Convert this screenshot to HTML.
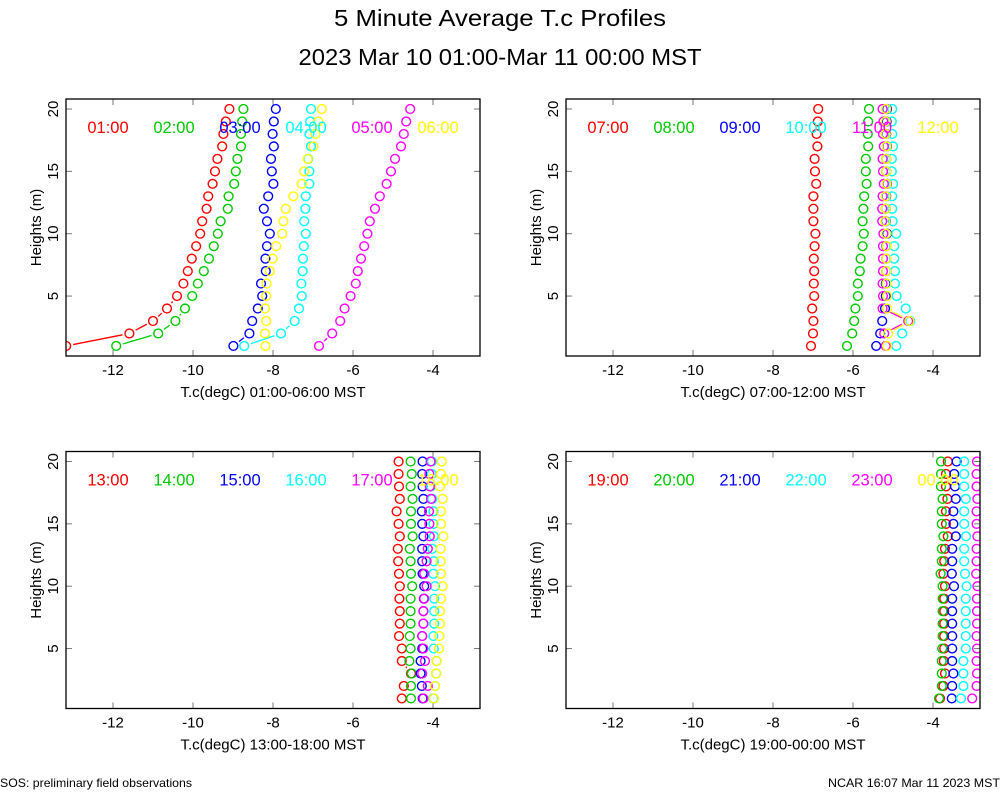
<!DOCTYPE html>
<html><head><meta charset="utf-8"><style>
html,body{margin:0;padding:0;background:#fff;}
svg{display:block;font-family:"Liberation Sans",sans-serif;}
</style></head><body>
<svg id="chart" width="1000" height="800" viewBox="0 0 1000 800" xmlns="http://www.w3.org/2000/svg">
<rect width="1000" height="800" fill="#fff"/>
<text x="500" y="26" font-size="23" text-anchor="middle" textLength="332" lengthAdjust="spacingAndGlyphs">5 Minute Average T.c Profiles</text>
<text x="500" y="65" font-size="23" text-anchor="middle" textLength="403" lengthAdjust="spacingAndGlyphs">2023 Mar 10 01:00-Mar 11 00:00 MST</text>
<text x="0" y="787" font-size="12" textLength="192" lengthAdjust="spacingAndGlyphs">SOS: preliminary field observations</text>
<text x="1000" y="787" font-size="12" text-anchor="end" textLength="172" lengthAdjust="spacingAndGlyphs">NCAR 16:07 Mar 11 2023 MST</text>
<g id="panels"></g>
</svg>
<script>
const heights = [20,19,18,17,16,15,14,13,12,11,10,9,8,7,6,5,4,3,2,1];
const xTicks = [-12,-10,-8,-6,-4];
const yTicks = [5,10,15,20];
const colors = ["#ff0000","#00c800","#0000ff","#00ffff","#ff00ff","#ffff00"];
const panelLabels = [["01:00","02:00","03:00","04:00","05:00","06:00"],["07:00","08:00","09:00","10:00","11:00","12:00"],["13:00","14:00","15:00","16:00","17:00","18:00"],["19:00","20:00","21:00","22:00","23:00","00:00"]];
const panelTitles = ["T.c(degC) 01:00-06:00 MST","T.c(degC) 07:00-12:00 MST","T.c(degC) 13:00-18:00 MST","T.c(degC) 19:00-00:00 MST"];
// panel 1
const p1s1 = [-9.09,-9.18,-9.24,-9.27,-9.39,-9.45,-9.51,-9.62,-9.66,-9.77,-9.82,-9.92,-10.03,-10.13,-10.24,-10.4,-10.65,-11.0,-11.59,-13.17];
const p1s2 = [-8.74,-8.77,-8.80,-8.80,-8.89,-8.93,-8.97,-9.11,-9.13,-9.31,-9.38,-9.48,-9.60,-9.73,-9.88,-10.02,-10.2,-10.44,-10.87,-11.92];
const p1s3 = [-7.93,-7.98,-8.01,-7.98,-8.05,-8.03,-7.99,-8.12,-8.23,-8.15,-8.08,-8.15,-8.19,-8.18,-8.30,-8.27,-8.38,-8.52,-8.59,-8.99];
const p1s4 = [-7.05,-7.07,-7.09,-7.05,-7.12,-7.09,-7.09,-7.18,-7.19,-7.22,-7.18,-7.23,-7.25,-7.26,-7.29,-7.28,-7.35,-7.46,-7.80,-8.72];
const p1s5 = [-4.57,-4.67,-4.73,-4.80,-4.95,-5.05,-5.16,-5.33,-5.45,-5.58,-5.64,-5.72,-5.80,-5.88,-5.93,-6.06,-6.21,-6.32,-6.52,-6.85];
const p1s6 = [-6.78,-6.87,-6.94,-6.99,-7.13,-7.22,-7.28,-7.49,-7.68,-7.74,-7.77,-7.92,-8.01,-8.08,-8.16,-8.17,-8.2,-8.17,-8.2,-8.19];
// panel 2
const p2s1 = [-6.87,-6.88,-6.91,-6.89,-6.96,-6.95,-6.92,-6.99,-6.99,-6.99,-6.94,-6.96,-6.98,-6.97,-6.98,-6.97,-7.02,-6.99,-7.0,-7.05];
const p2s2 = [-5.60,-5.62,-5.63,-5.62,-5.68,-5.68,-5.66,-5.72,-5.74,-5.76,-5.73,-5.76,-5.81,-5.83,-5.88,-5.88,-5.94,-5.97,-6.02,-6.15];
const p2s3 = [-5.15,-5.16,-5.17,-5.15,-5.17,-5.17,-5.15,-5.17,-5.18,-5.18,-5.15,-5.17,-5.17,-5.17,-5.18,-5.18,-5.20,-5.27,-5.32,-5.42];
const p2s4 = [-5.02,-5.03,-5.02,-5.0,-5.03,-5.03,-5.0,-5.02,-5.02,-5.01,-4.92,-4.97,-4.97,-4.95,-4.95,-4.91,-4.68,-4.57,-4.77,-4.92];
const p2s5 = [-5.26,-5.24,-5.25,-5.23,-5.26,-5.25,-5.23,-5.26,-5.27,-5.27,-5.24,-5.25,-5.25,-5.25,-5.26,-5.25,-5.26,-4.62,-5.22,-5.18];
const p2s6 = [-5.17,-5.18,-5.18,-5.16,-5.17,-5.17,-5.16,-5.18,-5.18,-5.19,-5.17,-5.16,-5.17,-5.17,-5.16,-5.15,-5.15,-4.59,-5.12,-5.15];
// panel 3
const p3s1 = [-4.86,-4.86,-4.85,-4.83,-4.91,-4.86,-4.83,-4.88,-4.87,-4.85,-4.83,-4.84,-4.83,-4.83,-4.85,-4.78,-4.78,-4.55,-4.73,-4.78];
const p3s2 = [-4.56,-4.53,-4.56,-4.51,-4.55,-4.55,-4.51,-4.58,-4.56,-4.55,-4.52,-4.56,-4.56,-4.56,-4.58,-4.56,-4.59,-4.53,-4.55,-4.55];
const p3s3 = [-4.26,-4.27,-4.26,-4.24,-4.28,-4.27,-4.24,-4.27,-4.27,-4.26,-4.22,-4.23,-4.24,-4.24,-4.27,-4.27,-4.31,-4.31,-4.28,-4.26];
const p3s4 = [-4.03,-4.03,-4.05,-4.02,-3.99,-3.99,-3.98,-4.02,-3.98,-3.99,-3.95,-3.97,-3.97,-3.97,-3.99,-3.98,-3.91,-3.92,-3.95,-3.99];
const p3s5 = [-4.06,-4.09,-4.08,-4.05,-4.10,-4.09,-4.08,-4.13,-4.16,-4.22,-4.16,-4.22,-4.24,-4.24,-4.27,-4.24,-4.20,-4.27,-4.13,-4.24];
const p3s6 = [-3.78,-3.80,-3.825,-3.76,-3.80,-3.80,-3.74,-3.81,-3.81,-3.80,-3.76,-3.80,-3.825,-3.825,-3.84,-3.85,-3.91,-3.92,-3.95,-3.98];
// panel 4
const p4s1 = [-3.63,-3.675,-3.675,-3.64,-3.675,-3.675,-3.63,-3.70,-3.72,-3.74,-3.70,-3.72,-3.72,-3.72,-3.72,-3.72,-3.73,-3.70,-3.74,-3.825];
const p4s2 = [-3.80,-3.80,-3.80,-3.76,-3.78,-3.78,-3.74,-3.78,-3.78,-3.81,-3.76,-3.76,-3.76,-3.76,-3.76,-3.77,-3.78,-3.78,-3.78,-3.85];
const p4s3 = [-3.41,-3.47,-3.45,-3.43,-3.49,-3.49,-3.43,-3.52,-3.52,-3.53,-3.475,-3.52,-3.52,-3.52,-3.52,-3.52,-3.52,-3.49,-3.52,-3.53];
const p4s4 = [-3.22,-3.22,-3.22,-3.18,-3.22,-3.22,-3.175,-3.22,-3.22,-3.20,-3.16,-3.18,-3.18,-3.18,-3.18,-3.18,-3.24,-3.24,-3.24,-3.30];
const p4s5 = [-2.90,-2.91,-2.91,-2.89,-2.91,-2.91,-2.89,-2.91,-2.91,-2.92,-2.89,-2.90,-2.90,-2.90,-2.91,-2.90,-2.91,-2.90,-2.91,-3.02];
const p4s6 = [-2.5,-2.5,-2.5,-2.5,-2.5,-2.5,-2.5,-2.5,-2.5,-2.5,-2.5,-2.5,-2.5,-2.5,-2.5,-2.5,-2.5,-2.5,-2.5,-2.5];
const panelSeries = [[p1s1,p1s2,p1s3,p1s4,p1s5,p1s6],[p2s1,p2s2,p2s3,p2s4,p2s5,p2s6],[p3s1,p3s2,p3s3,p3s4,p3s5,p3s6],[p4s1,p4s2,p4s3,p4s4,p4s5,p4s6]];

const NS = "http://www.w3.org/2000/svg";
const root = document.getElementById("panels");
const origins = [[0,0],[500,0],[0,352.5],[500,352.5]];
function mk(tag, attrs, parent){const e=document.createElementNS(NS,tag);for(const k in attrs)e.setAttribute(k,attrs[k]);parent.appendChild(e);return e;}

origins.forEach((o,pi)=>{
  const ox=o[0], oy=o[1];
  const xs = v => ox + 113 + (v + 12) * 40;
  const ys = h => oy + 109 + (20 - h) * 12.47;
  const L=ox+66, R=ox+480, T=oy+99, B=oy+356;
  const g = mk("g",{},root);
  
  
  const cp = mk("clipPath",{id:"clip"+pi},g);
  mk("rect",{x:L,y:T,width:R-L,height:B-T},cp);
  // ticks
  xTicks.forEach(t=>{
    const x=xs(t);
    mk("line",{x1:x,y1:B,x2:x,y2:B-6,stroke:"#777","stroke-width":1},g);
    mk("line",{x1:x,y1:T,x2:x,y2:T+6,stroke:"#777","stroke-width":1},g);
    const tl = mk("text",{x:x,y:B+19,"font-size":15,"text-anchor":"middle"},g);
    tl.textContent = String(t).replace("-","-");
    
    
  });
  yTicks.forEach(t=>{
    const y=ys(t);
    mk("line",{x1:L,y1:y,x2:L+6,y2:y,stroke:"#777","stroke-width":1},g);
    mk("line",{x1:R,y1:y,x2:R-6,y2:y,stroke:"#777","stroke-width":1},g);
    const tl = mk("text",{x:L-12,y:y,"font-size":15,"text-anchor":"middle",transform:`rotate(-90 ${L-12} ${y})`,"dominant-baseline":"middle"},g);
    tl.textContent = t;
    
    
  });
  const yl = mk("text",{x:ox+37,y:(T+B)/2,"font-size":15,"text-anchor":"middle",transform:`rotate(-90 ${ox+37} ${(T+B)/2})`,"dominant-baseline":"middle"},g);
  yl.textContent="Heights (m)";
  
  
  const xl = mk("text",{x:ox+273,y:B+41,"font-size":15,"text-anchor":"middle"},g);
  xl.textContent=panelTitles[pi];
  
  
  // series
  const sg = mk("g",{"clip-path":`url(#clip${pi})`},g);
  panelSeries[pi].forEach((vals,si)=>{
    const col=colors[si];
    const ser = mk("g",{},sg);
    
    
    for(let i=0;i<vals.length-1;i++){
      const x1=xs(vals[i]),y1=ys(heights[i]),x2=xs(vals[i+1]),y2=ys(heights[i+1]);
      const d=Math.hypot(x2-x1,y2-y1), gap=7;
      if(d>2*gap+1){
        const ux=(x2-x1)/d, uy=(y2-y1)/d;
        mk("line",{x1:x1+ux*gap,y1:y1+uy*gap,x2:x2-ux*gap,y2:y2-uy*gap,stroke:col,"stroke-width":1.3},ser);
      }
    }
    vals.forEach((v,i)=>{
      const c = mk("circle",{cx:xs(v),cy:ys(heights[i]),r:4.4,fill:"none",stroke:col,"stroke-width":1.4},ser);
      
      
    });
  });
  // legend
  panelLabels[pi].forEach((lab,si)=>{
    const t = mk("text",{x:ox+108+si*66,y:oy+133,"font-size":16.5,"text-anchor":"middle",fill:colors[si]},g);
    t.textContent=lab;
    
    
  });
  const fr = mk("rect",{x:L,y:T,width:R-L,height:B-T,fill:"none",stroke:"#000","stroke-width":1.3},g);
  
  
});
</script>
</body></html>
